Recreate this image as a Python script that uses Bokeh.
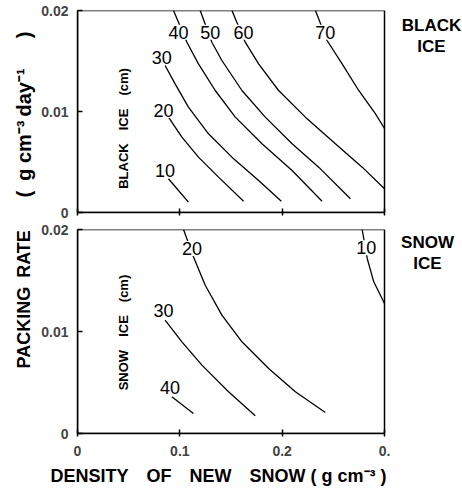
import math
from bokeh.plotting import figure
from bokeh.layouts import column
from bokeh.models import Range1d, FixedTicker, Label, LabelSet, ColumnDataSource, Title
from bokeh.core.properties import value
from bokeh.embed import file_html
from bokeh.resources import INLINE

FONT = "Liberation Sans"

# ---------------- data ----------------
x_min, x_max = 0.0, 0.3          # density axis limits (g cm-3)
y_min, y_max = 0.0, 0.02         # packing-rate axis limits
x_ticks = [0, 0.1, 0.2, 0.3]
x_tick_labels = {0: "0", 0.1: "0.1", 0.2: "0.2", 0.3: "0."}
y_ticks = [0, 0.01, 0.02]
y_tick_labels = {0: "0", 0.01: "0.01", 0.02: "0.02"}

# Black ice thickness contours (cm): density (x) vs packing rate (y)
bi10_x = [0.0889, 0.0987, 0.1084]
bi10_y = [0.00334, 0.00218, 0.00102]
bi20_x = [0.0889, 0.1020, 0.1182, 0.1378, 0.1623]
bi20_y = [0.00944, 0.00746, 0.00548, 0.00350, 0.00112]
bi30_x = [0.0856, 0.0954, 0.1084, 0.1280, 0.1509, 0.1770, 0.1992]
bi30_y = [0.01455, 0.01274, 0.01043, 0.00779, 0.00548, 0.00317, 0.00112]
bi40_x = [0.0938, 0.1069, 0.1182, 0.1346, 0.1542, 0.1803, 0.2097, 0.2390]
bi40_y = [0.0200, 0.01686, 0.01472, 0.01208, 0.00944, 0.00680, 0.00416, 0.00112]
bi50_x = [0.1199, 0.1313, 0.1411, 0.1607, 0.1835, 0.2097, 0.2357, 0.2667]
bi50_y = [0.0200, 0.01686, 0.01505, 0.01208, 0.00944, 0.00680, 0.00449, 0.00136]
bi60_x = [0.1509, 0.1639, 0.1770, 0.1965, 0.2227, 0.2520, 0.2782, 0.3000]
bi60_y = [0.0200, 0.01686, 0.01472, 0.01208, 0.00944, 0.00680, 0.00449, 0.00235]
bi70_x = [0.2325, 0.2439, 0.2586, 0.2748, 0.2912, 0.3000]
bi70_y = [0.0200, 0.01703, 0.01472, 0.01208, 0.00977, 0.00832]
bi_label_text = ["10", "20", "30", "40", "50", "60", "70"]
bi_label_x = [0.0856, 0.0840, 0.0824, 0.0987, 0.1297, 0.1623, 0.2422]
bi_label_y = [0.00416, 0.0101, 0.01538, 0.01785, 0.01785, 0.01785, 0.01785]

# Snow ice thickness contours (cm)
si10_x = [0.2782, 0.2831, 0.2895, 0.3000]
si10_y = [0.0200, 0.01716, 0.01487, 0.01275]
si20_x = [0.1036, 0.1133, 0.1248, 0.1411, 0.1607, 0.1868, 0.2129, 0.2422]
si20_y = [0.0200, 0.01732, 0.01454, 0.01160, 0.00899, 0.00637, 0.00409, 0.00206]
si30_x = [0.0856, 0.1020, 0.1216, 0.1476, 0.1737]
si30_y = [0.01111, 0.00899, 0.00670, 0.00409, 0.00174]
si40_x = [0.0922, 0.1133]
si40_y = [0.00360, 0.00196]
si_label_text = ["10", "20", "30", "40"]
si_label_x = [0.2821, 0.1118, 0.0840, 0.0905]
si_label_y = [0.01821, 0.01814, 0.01209, 0.00448]

black_lines = [(bi10_x, bi10_y), (bi20_x, bi20_y), (bi30_x, bi30_y), (bi40_x, bi40_y),
               (bi50_x, bi50_y), (bi60_x, bi60_y), (bi70_x, bi70_y)]
snow_lines = [(si10_x, si10_y), (si20_x, si20_y), (si30_x, si30_y), (si40_x, si40_y)]

# view extends right of the panel box so the side captions sit inside the canvas frame
PANEL_PX = 307
LEFT_PX = 77
WIDTH = 462
x_view_end = x_max * (WIDTH - LEFT_PX) / PANEL_PX


def make_fig(height, top, bottom, show_x_labels):
    p = figure(width=WIDTH, height=height, x_range=Range1d(x_min, x_view_end),
               y_range=Range1d(y_min, y_max),
               output_backend="svg", toolbar_location=None,
               min_border_left=LEFT_PX, min_border_right=0,
               min_border_top=top, min_border_bottom=bottom)
    p.xgrid.visible = False
    p.ygrid.visible = False
    p.outline_line_color = None
    p.background_fill_color = "white"
    p.border_fill_color = "white"

    xa = p.xaxis[0]
    xa.bounds = (x_min, x_max)
    xa.ticker = FixedTicker(ticks=x_ticks)
    xa.major_label_overrides = x_tick_labels
    xa.minor_tick_line_color = None
    xa.major_tick_in = 4
    xa.major_tick_out = 3
    xa.major_tick_line_width = 1.5
    xa.axis_line_width = 1.5
    xa.major_label_text_font = FONT
    xa.major_label_text_font_style = "bold"
    if show_x_labels:
        xa.major_label_text_font_size = "14px"
        xa.major_label_standoff = 9
    else:
        xa.major_label_text_font_size = "0px"
        xa.major_label_text_color = None
        xa.major_label_standoff = 0

    ya = p.yaxis[0]
    ya.ticker = FixedTicker(ticks=y_ticks)
    ya.major_label_overrides = y_tick_labels
    ya.minor_tick_line_color = None
    ya.major_tick_in = 5
    ya.major_tick_out = 0
    ya.major_tick_line_width = 1.5
    ya.axis_line_width = 1.5
    ya.major_label_text_font = FONT
    ya.major_label_text_font_style = "bold"
    ya.major_label_text_font_size = "14px"
    ya.major_label_standoff = 9

    # panel box (right and top edges) from the axis limits
    p.quad(left=[x_min], right=[x_max], bottom=[y_min], top=[y_max],
           fill_color=None, line_color="black", line_width=1.5)
    return p


def add_inner_label(p, text, x, y):
    p.add_layout(Label(x=x, y=y, text=text, angle=math.pi / 2, text_align="center",
                       text_baseline="middle", text_font=FONT, text_font_size="13px",
                       text_font_style="bold", text_color="black"))


def add_side_label(p, text, x, y):
    p.add_layout(Label(x=x, y=y, text=text, text_align="center", text_baseline="top",
                       text_font=FONT, text_font_size="17px", text_font_style="bold",
                       text_color="black", text_line_height=1.15))


def add_title(p, text, side, offset, size="18px", standoff=10):
    p.add_layout(Title(text=text, align="left", offset=offset, standoff=standoff,
                       text_font=FONT, text_font_size=size, text_font_style="bold",
                       text_color="black"), side)


def add_contours(p, lines, lx, ly, ltext):
    for xs, ys in lines:
        p.line(xs, ys, line_color="black", line_width=1.3)
    # white patches under the level labels break the lines like in the original
    p.rect(x=lx, y=ly, width=22, height=15, width_units="screen", height_units="screen",
           fill_color="white", line_color=None)
    src = ColumnDataSource(dict(x=lx, y=ly, t=ltext))
    p.add_layout(LabelSet(x="x", y="y", text="t", source=src, text_align="center",
                          text_baseline="middle", text_font=value(FONT),
                          text_font_size=value("18px"), text_color="black"))


# ---------------- top panel: black ice ----------------
top = make_fig(221, 10, 9, False)
add_contours(top, black_lines, bi_label_x, bi_label_y, bi_label_text)
add_inner_label(top, "BLACK\u2003ICE\u2003(cm)", 0.045, 0.00832)
add_side_label(top, "BLACK\nICE", 0.3459, 0.0195)
add_title(top, "(\u2002g cm\u207b\u00b3\u2009day\u207b\u00b9\u2003\u2002)", "left", 15, size="20px",
          standoff=8)

# ---------------- bottom panel: snow ice ----------------
bot = make_fig(272, 8, 60, True)
add_contours(bot, snow_lines, si_label_x, si_label_y, si_label_text)
add_inner_label(bot, "SNOW\u2003ICE\u2003(cm)", 0.045, 0.0099)
add_side_label(bot, "SNOW\nICE", 0.3420, 0.0197)
add_title(bot, "PACKING\u2002RATE", "left", 65)
add_title(bot, "DENSITY\u2003OF\u2003NEW\u2003SNOW ( g cm\u207b\u00b3 )", "below", -27)

layout = column(top, bot, spacing=0)

with open("out.html", "w") as f:
    f.write(file_html(layout, INLINE))
